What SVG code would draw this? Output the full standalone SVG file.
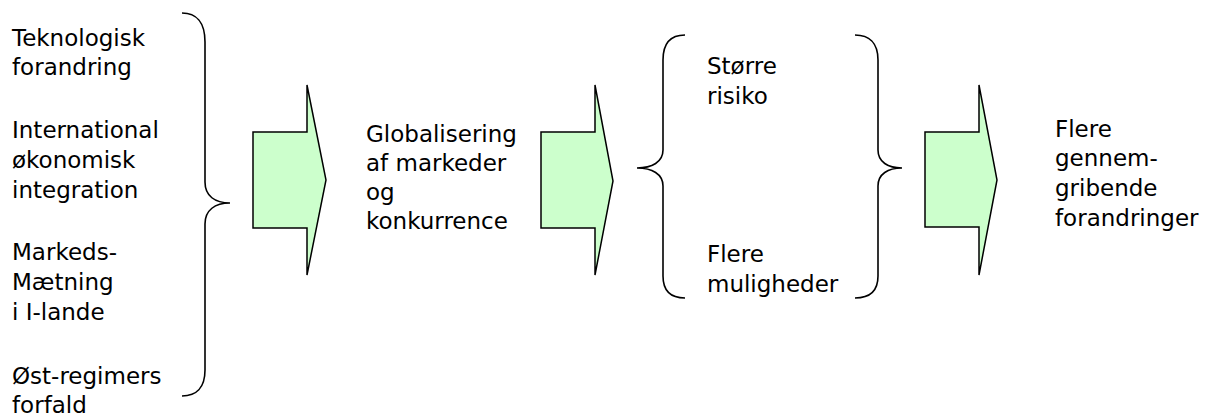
<svg xmlns="http://www.w3.org/2000/svg" width="1208" height="417" viewBox="0 0 1208 417">
<style>
text { font-family: "DejaVu Sans", Verdana, sans-serif; font-size: 23px; fill: #000; }
.arrow { fill: #ccffcc; stroke: #000; stroke-width: 1.5; stroke-linejoin: miter; }
.brace { fill: none; stroke: #000; stroke-width: 1.6; }
</style>
<rect width="1208" height="417" fill="#fff"/>
<g id="causes">
<text x="12" y="46">Teknologisk</text>
<text x="12" y="75">forandring</text>
<text x="12" y="138">International</text>
<text x="12" y="168">økonomisk</text>
<text x="12" y="198">integration</text>
<text x="12" y="260">Markeds-</text>
<text x="12" y="290">Mætning</text>
<text x="12" y="320">i I-lande</text>
<text x="12" y="384">Øst-regimers</text>
<text x="12" y="413">forfald</text>
</g>
<g id="brace-causes">
<path class="brace" d="M182,13 C196,13 205,22 205,42 L205,182 C205,196 215,203 230,203 C215,203 205,210 205,224 L205,370 C205,388 196,396 182,396"/>
</g>
<g id="globalisering">
<text x="366" y="142">Globalisering</text>
<text x="366" y="171">af markeder</text>
<text x="366" y="200">og</text>
<text x="366" y="229">konkurrence</text>
</g>
<g id="effects">
<path class="brace" d="M685,35 C671,35 663,43 663,60 L663,150 C663,162 652,168 637,168 C652,168 663,174 663,186 L663,276 C663,292 671,298 685,298"/>
<path class="brace" d="M855,35 C869,35 878,43 878,60 L878,150 C878,162 888,168 902,168 C888,168 878,174 878,186 L878,276 C878,292 869,298 855,298"/>
<text x="707" y="74">Større</text>
<text x="707" y="104">risiko</text>
<text x="707" y="262">Flere</text>
<text x="707" y="292">muligheder</text>
</g>
<g id="result">
<text x="1055" y="137">Flere</text>
<text x="1055" y="166">gennem-</text>
<text x="1055" y="196">gribende</text>
<text x="1055" y="226">forandringer</text>
</g>
<g id="connectors">
<polygon class="arrow" points="253,132 307,132 307,85 326,180 307,275 307,228 253,228"/>
<polygon class="arrow" points="541,132 595,132 595,85 613,181 595,275 595,228 541,228"/>
<polygon class="arrow" points="925,132 979,132 979,85 997,180 979,275 979,227 925,227"/>
</g>
</svg>
